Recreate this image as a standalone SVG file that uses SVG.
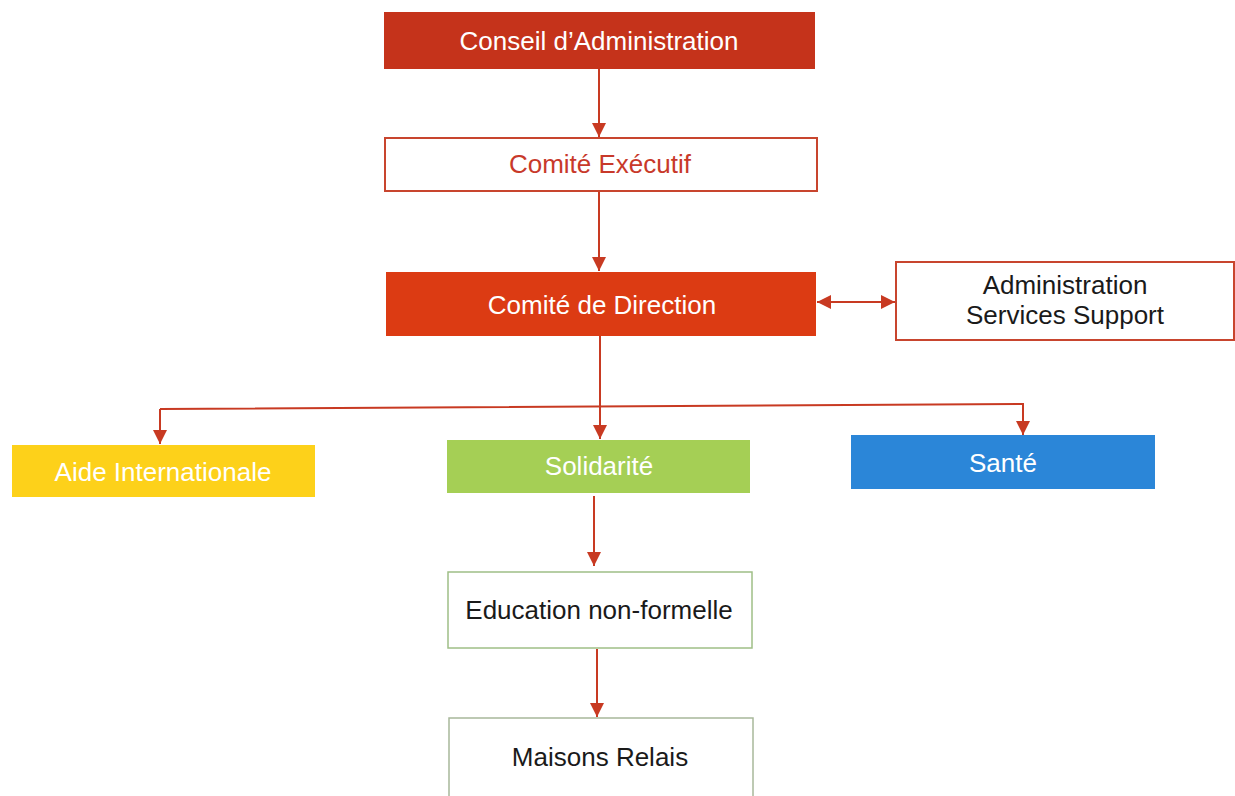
<svg xmlns="http://www.w3.org/2000/svg" width="1235" height="796" viewBox="0 0 1235 796">
<style>
text{font-family:"Liberation Sans",Arial,sans-serif;text-anchor:middle;dominant-baseline:central;font-size:26px}
.w{fill:#ffffff}
.k{fill:#1a1a1a}
.line{stroke:#c83a22;stroke-width:2;fill:none}
</style>
<defs>
<marker id="ah2" viewBox="0 0 10 10" refX="10" refY="5" markerWidth="14" markerHeight="14" orient="auto-start-reverse" markerUnits="userSpaceOnUse">
<path d="M0,0 L10,5 L0,10 Z" fill="#c83a22"/>
</marker>
</defs>
<rect width="1235" height="796" fill="#ffffff"/>
<g id="connectors">
<line class="line" x1="599" y1="69" x2="599" y2="137" marker-end="url(#ah2)"/>
<line class="line" x1="599" y1="191" x2="599" y2="271" marker-end="url(#ah2)"/>
<line class="line" x1="817" y1="302" x2="895" y2="302" marker-start="url(#ah2)" marker-end="url(#ah2)"/>
<line class="line" x1="600" y1="336" x2="600" y2="439" marker-end="url(#ah2)"/>
<polyline class="line" points="160,409 1023,404 1023,435" marker-end="url(#ah2)"/>
<path class="line" d="M160,409 L160,444" marker-end="url(#ah2)"/>
<line class="line" x1="594" y1="496" x2="594" y2="566" marker-end="url(#ah2)"/>
<line class="line" x1="597" y1="649" x2="597" y2="717" marker-end="url(#ah2)"/>
</g>
<g id="conseil">
<rect x="384" y="12" width="431" height="57" fill="#c5331b"/>
<text x="599" y="41" class="w">Conseil d’Administration</text>
</g>
<g id="executif">
<rect x="385" y="138" width="432" height="53" fill="#ffffff" stroke="#c8452e" stroke-width="2"/>
<text x="600" y="164" fill="#c8392a">Comité Exécutif</text>
</g>
<g id="direction">
<rect x="386" y="272" width="430" height="64" fill="#dc3b13"/>
<text x="602" y="305" class="w">Comité de Direction</text>
</g>
<g id="admin">
<rect x="896" y="262" width="338" height="78" fill="#ffffff" stroke="#c8452e" stroke-width="2"/>
<text x="1065" y="285" class="k">Administration</text>
<text x="1065" y="315" class="k">Services Support</text>
</g>
<g id="aide">
<rect x="12" y="445" width="303" height="52" fill="#fdd11a"/>
<text x="163" y="472" class="w">Aide Internationale</text>
</g>
<g id="solidarite">
<rect x="447" y="440" width="303" height="53" fill="#a5cf55"/>
<text x="599" y="466" class="w">Solidarité</text>
</g>
<g id="sante">
<rect x="851" y="435" width="304" height="54" fill="#2b86d8"/>
<text x="1003" y="463" class="w">Santé</text>
</g>
<g id="education">
<rect x="448" y="572" width="304" height="76" fill="#ffffff" stroke="#9fbf86" stroke-width="1.5"/>
<text x="599" y="610" class="k">Education non-formelle</text>
</g>
<g id="maisons">
<rect x="449" y="718" width="304" height="80" fill="#ffffff" stroke="#a8b89a" stroke-width="1.5"/>
<text x="600" y="757" class="k">Maisons Relais</text>
</g>
</svg>
